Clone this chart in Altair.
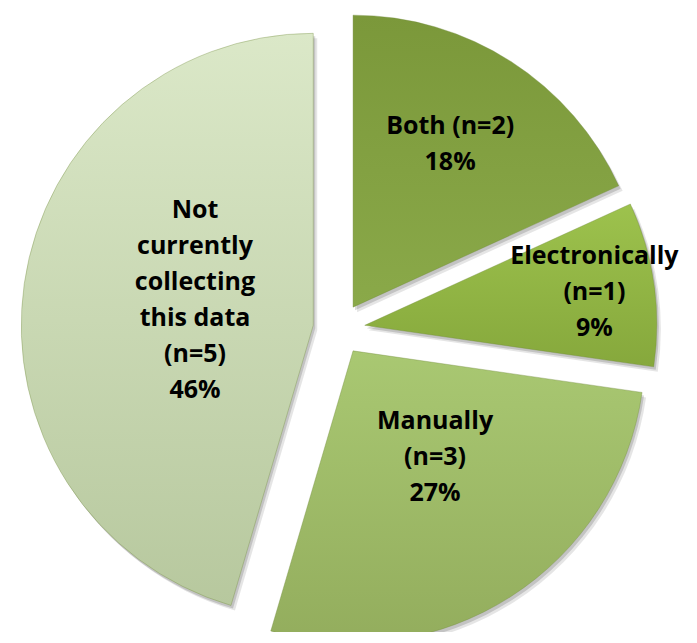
import math
import altair as alt
import pandas as pd

# ---- data ----
categories = ["Both", "Electronically", "Manually", "Not currently collecting this data"]
counts = [2, 1, 3, 5]
percents = ["18%", "9%", "27%", "46%"]
label_names = ["Both", "Electronically", "Manually", "Not\ncurrently\ncollecting\nthis data"]

# ---- layout / style ----
CX, CY = 331, 321          # pie centre (chart coordinates)
R = 292                    # pie radius
EXPLODE = 26               # explode distance
LH = 36                    # label line height
# label placement: distance from slice tip and angle shift (degrees) from mid-angle
label_r = {"Both": 190, "Electronically": 232, "Manually": 134,
           "Not currently collecting this data": 121}
label_dang = {"Both": -2, "Electronically": 0, "Manually": -5,
              "Not currently collecting this data": 4}
gradients = {
    "Both": ("#7b983a", "#8aa949"),
    "Electronically": ("#9dc24d", "#86a83c"),
    "Manually": ("#a9c872", "#93ad5d"),
    "Not currently collecting this data": ("#dbe8c8", "#b7c89e"),
}
total = sum(counts)

labels = []
for name, n, p in zip(label_names, counts, percents):
    if name == "Both":
        labels.append(f"{name} (n={n})\n{p}")
    else:
        labels.append(f"{name}\n(n={n})\n{p}")

df = pd.DataFrame({
    "category": categories,
    "count": counts,
    "label": labels,
    "order": list(range(len(categories))),
})
df["lr"] = df["category"].map(label_r)
df["lda"] = df["category"].map(label_dang)
df["nlines"] = df["label"].str.count("\n") + 1

base = alt.Chart(df).transform_window(
    cum="sum(count)", sort=[alt.SortField("order")]
).transform_calculate(
    start="datum.cum - datum.count",
    end="datum.cum",
).transform_calculate(
    mid=f"(datum.start + datum.end) / 2 / {total} * 2 * PI",
).transform_calculate(
    cx=f"{CX} + {EXPLODE} * sin(datum.mid)",
    cy=f"{CY} - {EXPLODE} * cos(datum.mid)",
    la="datum.mid + datum.lda * PI / 180",
).transform_calculate(
    lx="datum.cx + datum.lr * sin(datum.la)",
    ly=f"datum.cy - datum.lr * cos(datum.la) - (datum.nlines - 1) * {LH} / 2",
)

theta_scale = alt.Scale(domain=[0, total], range=[0, 2 * math.pi])

layers = []
# soft shadows
for dx, dy, op in [(4, 5, 0.10), (2, 3, 0.15)]:
    layers.append(
        base.transform_calculate(sx=f"datum.cx + {dx}", sy=f"datum.cy + {dy}")
        .mark_arc(radius=R, color="#000000", opacity=op)
        .encode(
            theta=alt.Theta("start:Q", scale=theta_scale, stack=None),
            theta2="end:Q",
            x=alt.X("sx:Q", scale=None),
            y=alt.Y("sy:Q", scale=None),
        )
    )

for cat in categories:
    c1, c2 = gradients[cat]
    grad = alt.LinearGradient(
        gradient="linear",
        stops=[alt.GradientStop(color=c1, offset=0), alt.GradientStop(color=c2, offset=1)],
        x1=0, x2=0, y1=0, y2=1,
    )
    layers.append(
        base.transform_filter(alt.datum.category == cat)
        .mark_arc(radius=R, color=grad, stroke="#6f8a3a", strokeWidth=0.6, strokeOpacity=0.6)
        .encode(
            theta=alt.Theta("start:Q", scale=theta_scale, stack=None),
            theta2="end:Q",
            x=alt.X("cx:Q", scale=None),
            y=alt.Y("cy:Q", scale=None),
        )
    )

text = base.mark_text(
    font="Open Sans", fontSize=25, fontWeight="bold", color="#000000",
    lineBreak="\n", lineHeight=LH, align="center", baseline="middle",
).encode(
    x=alt.X("lx:Q", scale=None),
    y=alt.Y("ly:Q", scale=None),
    text="label:N",
)
layers.append(text)

chart = alt.layer(*layers).properties(
    width=680, height=624, padding=0, autosize="none",
    background="#ffffff",
).configure_view(stroke=None)

chart.save("out.html", embed_options={"renderer": "svg", "actions": False})
